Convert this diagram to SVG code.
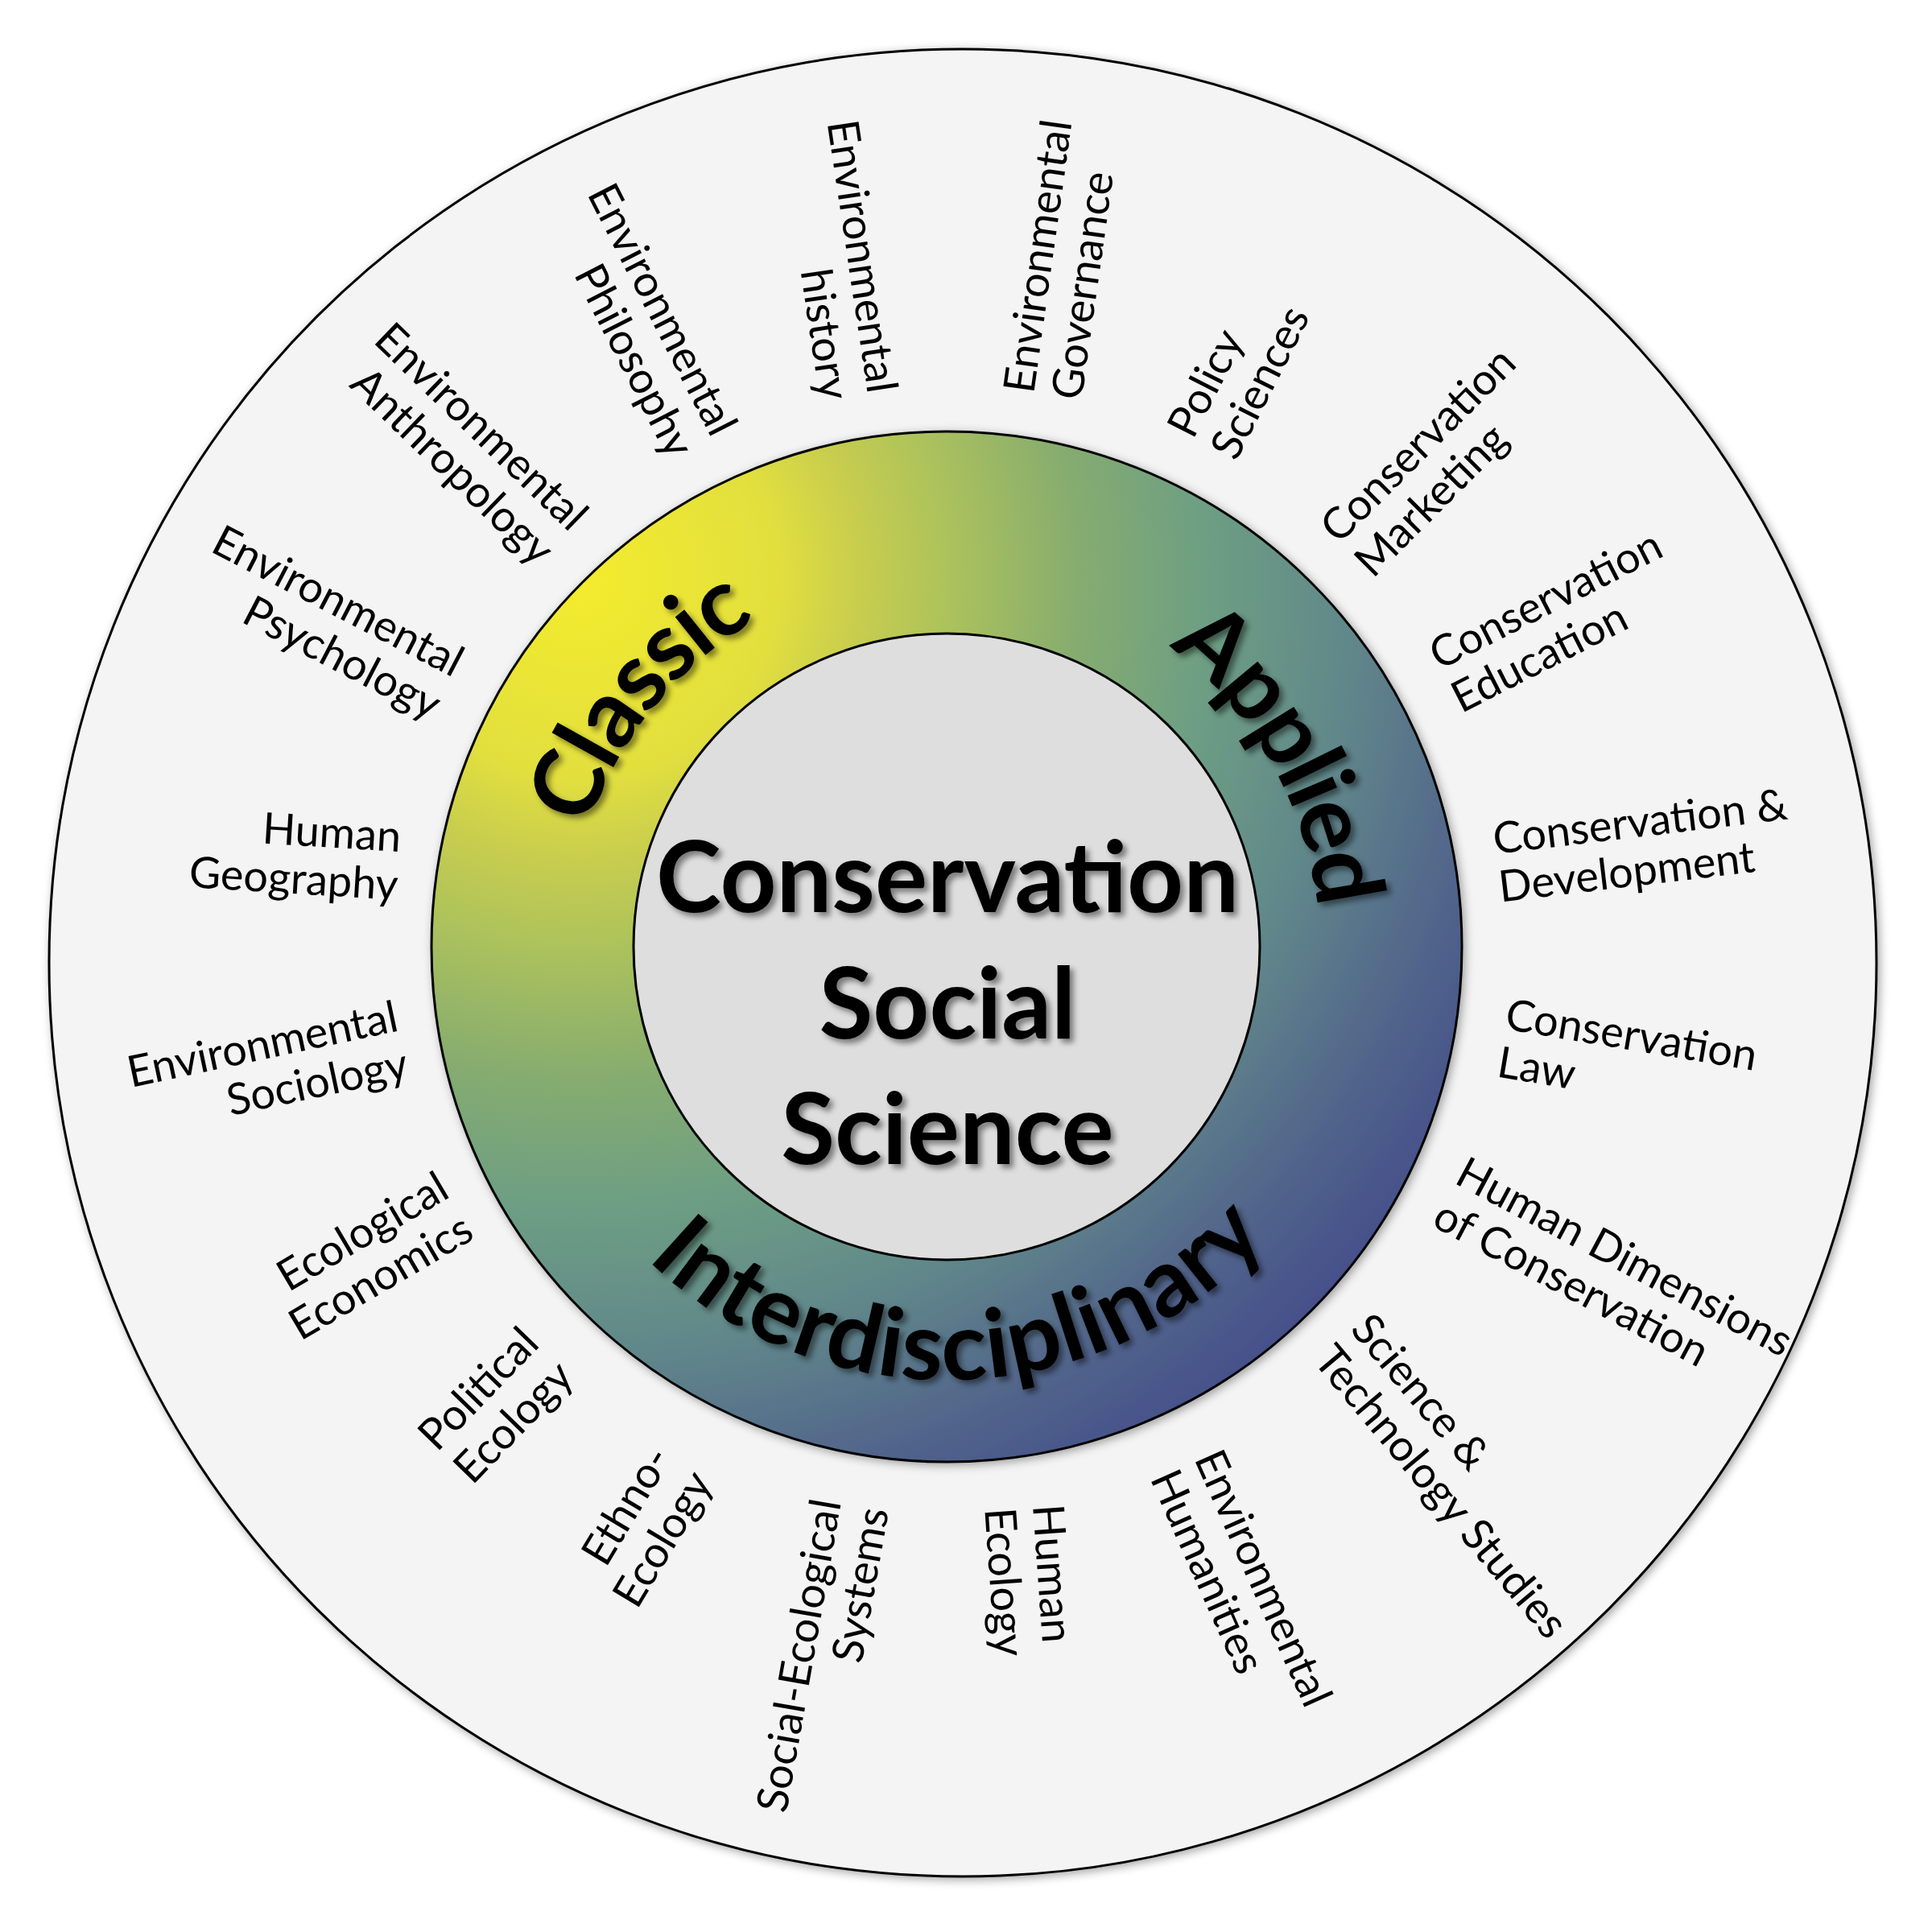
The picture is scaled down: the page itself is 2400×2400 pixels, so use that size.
<svg xmlns="http://www.w3.org/2000/svg" width="2400" height="2400" viewBox="0 0 2400 2400">
<defs>
  <radialGradient id="ringGrad" gradientUnits="userSpaceOnUse" cx="720" cy="720" r="1290">
    <stop offset="0" stop-color="#F4EC2C"/>
    <stop offset="0.19" stop-color="#E2DF3E"/>
    <stop offset="0.27" stop-color="#C8CD4E"/>
    <stop offset="0.35" stop-color="#AEC35B"/>
    <stop offset="0.48" stop-color="#86AC6F"/>
    <stop offset="0.6" stop-color="#6E9F83"/>
    <stop offset="0.74" stop-color="#61888A"/>
    <stop offset="0.88" stop-color="#52668B"/>
    <stop offset="1" stop-color="#454F8A"/>
  </radialGradient>
  <filter id="shapeShadow" x="-10%" y="-10%" width="120%" height="120%">
    <feDropShadow dx="3" dy="3" stdDeviation="6" flood-color="#000" flood-opacity="0.35"/>
  </filter>
  <filter id="textShadow" x="-10%" y="-10%" width="120%" height="130%">
    <feDropShadow dx="5" dy="5" stdDeviation="3.5" flood-color="#000" flood-opacity="0.45"/>
  </filter>
  <path id="arcClassic" d="M 737.2 1344.4 A 470 470 0 0 1 1249.5 711.8"/>
  <path id="arcApplied" d="M 1178.4 713.0 A 463 463 0 0 1 1575.8 1409.6"/>
  <path id="arcInter" d="M 642.0 1241.6 A 538 538 0 0 0 1713.3 1204.2"/>
</defs>
<style>
  .lbl { font-family: Lato, "Noto Sans", "Liberation Sans", sans-serif; font-size: 54px; fill: #000; }
  .end { text-anchor: end; }
  .start { text-anchor: start; }
  .ringtxt { font-family: Lato, "Noto Sans", "Liberation Sans", sans-serif; font-weight: 700; font-size: 118px; fill: #000; }
  .core { font-family: Lato, "Noto Sans", "Liberation Sans", sans-serif; font-weight: 700; font-size: 122px; fill: #000; text-anchor: middle; }
  .edge { stroke: #000; stroke-width: 3; }
</style>

<g id="outer-circle">
  <circle cx="1196" cy="1196" r="1135" fill="#F4F4F4" class="edge" filter="url(#shapeShadow)"/>
</g>

<g id="ring">
  <circle cx="1176" cy="1176" r="640" fill="url(#ringGrad)" class="edge" filter="url(#shapeShadow)"/>
</g>

<g id="core">
  <circle cx="1176" cy="1176" r="389" fill="#DEDEDE" class="edge"/>
  <g filter="url(#textShadow)">
    <text class="core" x="1177" y="1133">Conservation</text>
    <text class="core" x="1177" y="1290">Social</text>
    <text class="core" x="1177" y="1446">Science</text>
  </g>
</g>

<g id="ring-labels" filter="url(#textShadow)">
  <text id="lbl-classic" class="ringtxt"><textPath href="#arcClassic" startOffset="50%" text-anchor="middle" textLength="340" lengthAdjust="spacing">Classic</textPath></text>
  <text id="lbl-applied" class="ringtxt"><textPath href="#arcApplied" startOffset="50%" text-anchor="middle" textLength="385" lengthAdjust="spacing">Applied</textPath></text>
  <text id="lbl-inter" class="ringtxt"><textPath href="#arcInter" startOffset="50%" text-anchor="middle" textLength="860" lengthAdjust="spacing">Interdisciplinary</textPath></text>
</g>

<g id="labels">
  <g id="env-history" transform="translate(1078 490) rotate(81.5)"><text class="lbl end"><tspan x="0" y="0">Environmental</tspan><tspan x="0" y="60">history</tspan></text></g>
  <g id="env-philosophy" transform="translate(884 545) rotate(63)"><text class="lbl end"><tspan x="0" y="0">Environmental</tspan><tspan x="0" y="60">Philosophy</tspan></text></g>
  <g id="env-anthropology" transform="translate(708 662) rotate(44)"><text class="lbl end"><tspan x="0" y="0">Environmental</tspan><tspan x="0" y="60">Anthropology</tspan></text></g>
  <g id="env-psychology" transform="translate(563 842) rotate(27.5)"><text class="lbl end"><tspan x="0" y="0">Environmental</tspan><tspan x="0" y="60">Psychology</tspan></text></g>
  <g id="human-geography" transform="translate(497 1058) rotate(3.5)"><text class="lbl end"><tspan x="0" y="0">Human</tspan><tspan x="0" y="60">Geography</tspan></text></g>
  <g id="env-sociology" transform="translate(497 1280) rotate(-12)"><text class="lbl end"><tspan x="0" y="0">Environmental</tspan><tspan x="0" y="60">Sociology</tspan></text></g>
  <g id="eco-economics" transform="translate(561 1486) rotate(-30.5)"><text class="lbl end"><tspan x="0" y="0">Ecological</tspan><tspan x="0" y="60">Economics</tspan></text></g>
  <g id="political-ecology" transform="translate(672 1671) rotate(-46)"><text class="lbl end"><tspan x="0" y="0">Political</tspan><tspan x="0" y="60">Ecology</tspan></text></g>
  <g id="ethno-ecology" transform="translate(835 1811) rotate(-59)"><text class="lbl end"><tspan x="0" y="0">Ethno-</tspan><tspan x="0" y="60">Ecology</tspan></text></g>
  <g id="ses" transform="translate(1045 1866) rotate(-80)"><text class="lbl end"><tspan x="0" y="0">Social-Ecological</tspan><tspan x="0" y="60">Systems</tspan></text></g>

  <g id="human-ecology" transform="translate(1283 1870) rotate(86)"><text class="lbl start"><tspan x="0" y="0">Human</tspan><tspan x="0" y="60">Ecology</tspan></text></g>
  <g id="env-humanities" transform="translate(1483 1812) rotate(66)"><text class="lbl start"><tspan x="0" y="0">Environmental</tspan><tspan x="0" y="60">Humanities</tspan></text></g>
  <g id="sts" transform="translate(1676 1652) rotate(50)"><text class="lbl start"><tspan x="0" y="0">Science &amp;</tspan><tspan x="0" y="60">Technology Studies</tspan></text></g>
  <g id="hdc" transform="translate(1805 1469) rotate(28)"><text class="lbl start"><tspan x="0" y="0">Human Dimensions</tspan><tspan x="0" y="60">of Conservation</tspan></text></g>
  <g id="cons-law" transform="translate(1868 1278) rotate(9.5)"><text class="lbl start"><tspan x="0" y="0">Conservation</tspan><tspan x="0" y="60">Law</tspan></text></g>
  <g id="cons-dev" transform="translate(1857 1061) rotate(-6.8)"><text class="lbl start"><tspan x="0" y="0">Conservation &amp;</tspan><tspan x="0" y="60">Development</tspan></text></g>
  <g id="cons-edu" transform="translate(1788 833) rotate(-27)"><text class="lbl start"><tspan x="0" y="0">Conservation</tspan><tspan x="0" y="60">Education</tspan></text></g>
  <g id="cons-marketing" transform="translate(1663 677) rotate(-45)"><text class="lbl start"><tspan x="0" y="0">Conservation</tspan><tspan x="0" y="60">Marketing</tspan></text></g>
  <g id="policy-sciences" transform="translate(1482 547) rotate(-63)"><text class="lbl start"><tspan x="0" y="0">Policy</tspan><tspan x="0" y="60">Sciences</tspan></text></g>
  <g id="env-governance" transform="translate(1284 490) rotate(-82)"><text class="lbl start"><tspan x="0" y="0">Environmental</tspan><tspan x="0" y="60">Governance</tspan></text></g>
</g>
</svg>
